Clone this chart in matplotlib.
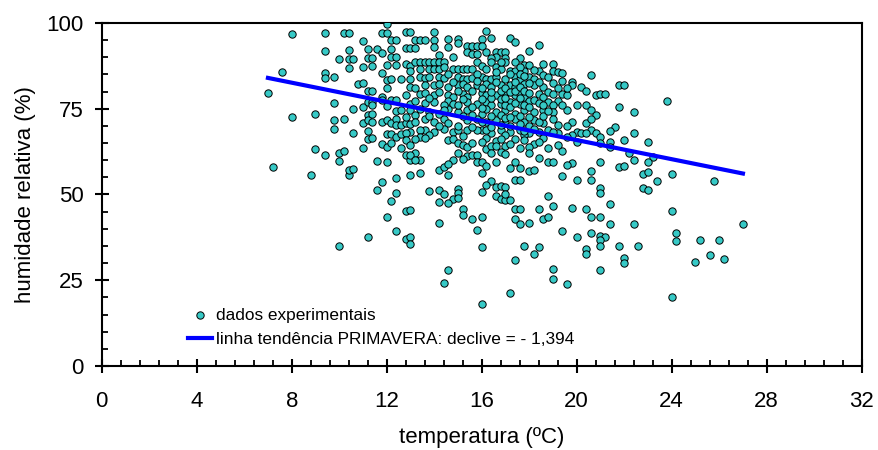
import numpy as np
import matplotlib
matplotlib.use("Agg")
import matplotlib.pyplot as plt
from matplotlib.ticker import MultipleLocator

plt.rcParams['font.family'] = ['Liberation Sans', 'DejaVu Sans']

# (temperatura ºC, humidade relativa %) - primavera, por faixas de temperatura
cool_points = [
    (7.0, 79.6), (7.2, 57.9), (7.6, 85.7), (8.0, 96.9), (8.0, 72.5), (8.8, 55.6), (9.0, 63.3), (9.0, 73.4),
    (9.4, 97.0), (9.4, 91.8), (9.4, 85.4), (9.4, 84.0), (9.4, 61.4), (9.8, 84.3), (9.8, 76.6), (9.8, 71.6),
    (9.8, 69.2), (10.0, 89.4), (10.0, 62.2), (10.0, 59.9), (10.0, 34.9), (10.2, 97.2), (10.2, 72.0), (10.2, 62.6),
    (10.4, 97.2), (10.4, 92.1), (10.4, 89.6), (10.4, 87.0), (10.4, 55.8), (10.4, 57.2), (10.6, 57.5), (10.6, 89.6),
    (10.6, 74.9), (10.6, 68.0), (10.8, 82.2), (11.0, 94.7), (11.0, 87.3), (11.0, 82.5), (11.0, 75.5), (11.0, 70.8),
    (11.0, 63.6), (11.2, 92.3), (11.2, 89.8), (11.2, 80.1), (11.2, 77.0), (11.2, 73.2), (11.2, 71.7), (11.2, 68.6),
    (11.2, 66.2), (11.2, 37.5), (11.4, 89.8), (11.4, 87.5), (11.4, 80.3), (11.4, 77.0), (11.4, 76.0), (11.4, 73.5),
    (11.4, 71.2), (11.4, 66.4), (11.6, 92.3), (11.6, 59.8), (11.6, 51.2), (11.8, 97.2), (11.8, 91.2), (11.8, 85.3),
    (11.8, 78.5), (11.8, 77.5), (11.8, 71.2), (11.8, 64.6), (11.8, 53.6), (12.0, 99.7), (12.0, 97.2), (12.0, 87.8),
    (12.0, 83.4), (12.0, 81.0), (12.0, 75.9), (12.0, 71.6), (12.0, 67.7), (12.0, 63.8), (12.0, 59.4), (12.0, 43.4),
    (12.2, 95.0), (12.2, 92.5), (12.2, 90.2), (12.2, 83.8), (12.2, 77.5), (12.2, 70.8), (12.2, 67.7), (12.2, 65.0),
    (12.2, 48.1), (12.4, 95.0), (12.4, 90.2), (12.4, 87.8), (12.4, 77.5), (12.4, 74.2), (12.4, 72.1), (12.4, 70.2),
    (12.4, 66.9), (12.4, 54.8), (12.4, 50.5), (12.4, 39.4), (12.6, 83.7), (12.6, 70.2), (12.6, 67.7),
    (12.8, 45.1), (13.0, 45.5), (12.8, 37.0), (13.0, 37.5), (13.0, 35.5),
]

core_high = [
    (12.8, 97.4), (13.0, 97.4), (14.0, 97.4), (16.2, 97.7),
    (13.2, 95.0), (13.4, 95.1), (13.6, 95.1), (14.0, 95.1), (14.6, 95.3), (15.0, 95.3), (16.0, 95.3), (16.4, 95.5),
    (17.2, 95.5), (17.4, 94.6),
    (12.8, 92.7), (13.0, 92.7), (13.2, 92.7), (14.0, 92.9), (14.6, 93.0), (15.0, 94.3), (15.4, 93.3), (15.6, 93.3),
    (15.8, 93.3), (16.0, 93.3), (18.4, 93.6), (18.0, 91.9),
    (14.2, 90.6), (14.8, 90.0), (15.4, 91.6), (15.6, 91.1), (15.8, 91.1), (16.2, 91.4), (16.6, 91.4), (16.8, 91.4),
    (17.0, 91.6), (16.6, 90.0), (16.4, 89.7), (17.0, 89.7), (17.6, 89.7),
    (12.8, 88.0), (13.0, 87.6), (13.2, 88.5), (13.4, 88.5), (13.6, 88.5), (13.8, 88.5), (14.0, 88.5), (14.2, 88.5),
    (14.4, 88.5), (15.8, 88.5), (16.4, 88.5), (17.0, 88.5), (16.0, 87.4), (17.8, 87.7), (18.0, 87.7), (19.0, 88.0),
    (17.4, 88.5),
    (13.0, 86.1), (13.4, 86.6), (13.8, 86.6), (14.0, 86.6), (14.2, 86.6), (14.8, 86.6), (15.0, 86.6), (15.2, 86.6),
    (15.4, 86.6), (15.6, 86.6), (16.2, 86.6), (16.6, 87.1), (16.8, 86.6), (17.2, 86.1), (17.4, 86.1), (17.8, 86.1),
    (18.4, 86.1), (19.0, 86.1), (19.2, 85.6), (19.4, 85.4), (20.6, 84.9),
    (13.0, 83.7), (13.4, 84.2), (13.6, 83.9), (13.8, 84.2), (14.2, 84.2), (14.4, 83.9), (15.0, 84.2), (15.2, 83.7),
    (15.4, 83.7), (15.6, 83.9), (16.0, 84.2), (16.2, 83.7), (16.4, 83.7), (16.6, 84.2), (17.0, 83.7), (17.4, 84.2),
    (17.6, 83.7), (18.0, 84.2), (18.2, 83.7), (18.6, 84.7), (18.8, 84.2), (19.8, 82.9),
    (13.0, 81.3), (13.2, 81.0), (13.6, 81.8), (14.0, 81.8), (14.2, 82.3), (14.6, 81.3), (15.0, 81.8), (15.2, 82.3),
    (15.4, 81.3), (15.8, 81.8), (16.2, 82.3), (16.4, 81.3), (16.8, 81.8), (17.2, 81.8), (17.4, 81.3), (17.8, 82.3),
    (18.2, 81.8), (18.6, 81.3), (19.8, 81.8), (20.2, 81.3),
    (12.8, 78.9), (13.4, 79.4), (13.6, 79.7), (14.0, 78.9), (14.6, 78.9), (14.8, 78.4), (15.2, 79.4), (15.4, 78.4),
    (16.0, 79.7), (16.2, 78.9), (16.6, 78.9), (17.0, 79.4), (17.4, 78.9), (17.6, 79.4), (17.8, 78.4), (18.4, 79.4),
    (18.6, 78.4), (19.4, 79.4), (19.6, 78.9), (20.4, 80.3), (20.8, 79.1),
    (13.0, 76.5), (13.2, 77.4), (13.6, 76.8), (14.0, 77.0), (14.6, 77.4), (14.8, 76.5), (15.4, 77.0), (15.8, 76.5),
    (16.2, 77.0), (16.4, 76.0), (16.8, 76.5), (17.2, 77.0), (17.6, 76.5), (18.0, 77.4), (18.8, 77.0), (19.2, 77.4),
    (19.0, 76.0), (20.0, 76.0), (20.4, 76.2),
    (12.6, 74.6), (13.0, 74.6), (13.4, 75.0), (13.8, 74.1), (14.2, 73.6), (14.6, 75.0), (15.0, 74.1), (15.4, 74.6),
    (16.0, 73.6), (16.2, 75.0), (16.6, 74.1), (17.0, 74.6), (17.4, 73.6), (17.8, 74.6), (18.2, 74.1), (18.6, 74.6),
    (19.0, 74.1), (19.6, 74.6), (20.6, 74.6), (20.8, 73.1), (13.2, 73.1),
    (12.8, 70.7), (12.8, 72.5), (13.0, 70.5), (13.2, 71.2), (13.6, 72.1), (14.0, 71.2), (14.4, 72.1), (14.6, 70.7),
    (15.4, 71.7), (15.8, 72.1), (16.2, 71.2), (16.6, 71.7), (17.0, 70.7), (17.4, 72.1), (17.8, 71.2), (18.2, 71.7),
    (18.6, 70.7), (19.0, 72.1), (19.8, 71.2), (20.4, 70.7), (20.6, 72.1),
    (13.0, 68.3), (13.6, 68.8), (14.0, 68.3), (14.4, 69.2), (14.8, 68.3), (15.4, 68.8), (16.0, 68.8), (16.4, 67.8),
    (16.8, 68.8), (17.2, 68.3), (17.6, 68.8), (18.0, 67.8), (18.4, 68.3), (18.8, 68.8), (19.2, 67.8), (20.0, 68.3),
    (20.6, 68.8), (13.4, 68.8), (13.8, 67.3), (15.0, 68.8), (15.8, 68.8), (16.2, 68.8), (17.8, 67.3), (19.0, 68.3),
    (19.8, 67.3), (20.2, 67.8), (20.4, 68.0), (20.8, 67.8), (12.8, 67.8),
]

# pontos sobrepostos no centro da nuvem (14-20 ºC)
core_dense = [
    (14.4, 87.2), (14.6, 85.2), (14.8, 82.8), (15.0, 80.2), (15.2, 77.8), (15.0, 76.0), (15.2, 72.8), (15.0, 70.0),
    (15.2, 67.0), (15.6, 69.8), (15.6, 73.2), (15.6, 75.6), (15.6, 80.2), (15.8, 85.2), (15.8, 83.0), (16.0, 81.0),
    (16.0, 77.8), (16.0, 75.2), (16.0, 71.0), (16.2, 66.5), (16.4, 69.6), (16.4, 73.0), (16.4, 78.2), (16.4, 80.0),
    (16.6, 82.8), (16.6, 85.6), (16.8, 88.6), (16.8, 80.2), (16.8, 77.8), (16.8, 73.2), (16.8, 70.2), (17.0, 67.2),
    (17.0, 72.4), (17.0, 76.0), (17.0, 78.0), (17.0, 81.0), (17.2, 85.0), (17.2, 79.8), (17.2, 75.6), (17.2, 72.6),
    (17.2, 70.0), (17.4, 76.8), (17.4, 80.2), (17.4, 82.8), (17.6, 87.2), (17.6, 85.0), (17.6, 81.2), (17.6, 78.0),
    (17.6, 73.0), (17.6, 70.6), (17.8, 68.6), (17.8, 76.0), (17.8, 80.2), (17.8, 84.6), (18.0, 82.6), (18.0, 79.6),
    (18.0, 75.6), (18.0, 72.6), (18.0, 70.0), (18.2, 86.4), (18.2, 77.6), (18.2, 69.2), (18.4, 71.0), (18.4, 76.6),
    (18.4, 82.8), (18.6, 88.0), (18.6, 76.0), (18.6, 72.8), (18.8, 80.0), (18.8, 74.4), (19.0, 79.2), (19.0, 82.6),
    (19.2, 70.4), (19.2, 81.0), (19.4, 76.0), (19.4, 83.0), (19.6, 81.0), (19.6, 70.0), (14.2, 80.0), (14.4, 76.0),
    (14.2, 70.0), (14.6, 66.0), (13.8, 78.0), (13.8, 72.8), (14.4, 74.6), (16.6, 65.6), (17.4, 66.2), (18.2, 64.6),
    (18.6, 66.6), (16.2, 63.2), (17.0, 64.0), (19.4, 62.6),
]

core_mid = [
    (12.8, 65.9), (13.0, 64.5), (13.4, 66.9), (13.6, 66.4), (14.8, 66.1), (15.0, 65.1), (15.2, 64.5), (15.4, 63.8),
    (15.6, 65.0), (16.0, 65.4), (16.4, 64.2), (16.8, 66.1), (16.6, 64.0), (17.2, 64.7), (17.6, 63.5), (17.8, 65.9),
    (18.0, 63.8), (18.4, 65.4), (18.8, 63.5), (19.2, 64.5), (19.6, 66.9), (20.0, 65.4),
    (12.6, 63.5), (12.8, 61.6), (13.2, 62.0), (15.0, 62.0), (15.4, 61.1), (15.6, 61.6), (15.8, 61.6), (16.4, 62.0),
    (16.8, 62.5), (17.0, 61.9), (18.0, 62.0), (18.4, 60.6),
    (13.0, 60.1), (13.4, 60.1), (14.8, 60.1), (15.2, 60.3), (15.8, 59.6), (16.0, 59.6), (16.6, 59.6), (17.4, 59.6),
    (18.8, 59.6), (19.0, 59.6), (19.8, 59.2), (13.0, 61.6), (13.2, 66.2), (13.2, 60.1),
]

core_low = [
    (13.4, 56.2), (13.0, 55.6), (13.8, 50.9), (14.2, 51.4), (14.4, 50.0), (14.2, 47.8), (14.8, 48.6), (14.6, 47.4),
    (15.0, 51.6), (15.0, 50.5), (15.0, 49.0), (15.2, 45.7), (15.2, 43.9), (15.6, 42.8), (16.0, 43.5), (16.0, 50.7),
    (15.8, 39.7), (16.0, 34.6), (14.2, 41.8),
    (16.4, 53.9), (16.2, 52.9), (16.6, 52.2), (16.8, 52.6), (17.0, 52.2), (16.6, 49.7), (16.8, 48.6), (17.0, 48.3),
    (17.2, 48.3), (17.0, 50.0),
    (17.4, 45.9), (17.6, 45.9), (17.4, 42.8), (17.6, 41.3), (18.0, 41.8), (18.4, 45.7), (18.6, 42.8), (18.8, 43.3),
    (19.0, 46.6), (19.4, 39.4), (19.8, 46.1), (20.4, 45.7), (20.6, 43.5), (20.0, 37.5), (20.6, 38.7), (18.8, 49.5),
    (17.8, 35.1), (18.4, 34.6),
    (14.2, 57.2), (14.4, 58.0), (14.6, 58.9), (14.6, 55.8), (16.0, 56.4), (17.2, 57.7), (17.4, 54.3), (17.6, 54.3),
    (18.0, 56.8), (18.2, 57.2), (19.4, 55.5), (19.6, 58.7), (20.6, 56.8), (20.6, 54.3), (20.0, 54.3), (17.6, 57.7),
    (16.2, 58.2),
    (18.2, 32.7), (17.4, 31.0), (14.6, 28.0), (14.4, 24.1), (16.0, 18.1), (17.2, 21.3), (19.0, 28.3), (19.0, 25.3),
    (19.6, 23.9), (20.4, 34.1), (20.4, 32.6),
]

warm_points = [
    (21.0, 79.2), (21.2, 79.2), (21.8, 82.0), (22.0, 82.0), (21.8, 75.5), (22.4, 74.0), (23.8, 77.4), (21.6, 69.6),
    (21.4, 68.6), (21.0, 66.9), (21.0, 64.9), (21.4, 65.4), (21.4, 63.8), (22.0, 65.9), (22.4, 67.9), (23.0, 65.2),
    (22.2, 62.2), (22.4, 60.1), (23.2, 60.9), (23.0, 59.4), (21.8, 58.0), (22.0, 58.2), (22.8, 55.9), (23.0, 56.5),
    (24.0, 56.0), (23.4, 53.9), (25.8, 53.9), (22.8, 51.8), (23.0, 51.3), (21.0, 52.0), (21.0, 50.5), (21.4, 47.1),
    (21.0, 43.3), (21.4, 41.3), (24.0, 45.1), (22.4, 41.4), (27.0, 41.5), (24.2, 38.9), (24.2, 36.3), (25.2, 36.6),
    (26.0, 36.6), (25.6, 32.5), (25.0, 30.3), (26.2, 31.1), (21.0, 37.9), (21.2, 37.5), (21.0, 36.7), (21.0, 35.1),
    (21.8, 35.1), (22.6, 35.1), (22.0, 31.4), (22.0, 30.0), (21.0, 28.1), (24.0, 20.2), (21.0, 59.6),
]

# linha de tendência (regressão linear)
slope = -1.394
intercept = 93.75
trend_range = [7.0, 27.0]

data = np.array(cool_points + core_high + core_dense + core_mid + core_low + warm_points)
temp = data[:, 0]
hum = data[:, 1]

fig = plt.figure(figsize=(8.79, 4.5), dpi=100)
ax = fig.add_axes([0.1157, 0.1867, 0.8646, 0.7622])

ax.scatter(temp, hum, s=28, c='#36C9C6', edgecolors='black', linewidths=0.7,
           zorder=3, label='dados experimentais')
tx = np.array(trend_range)
ax.plot(tx, intercept + slope * tx, color='#0000FF', lw=3, zorder=4,
        label='linha tendência PRIMAVERA: declive = - 1,394')

ax.set_xlim(0, 32)
ax.set_ylim(0, 100)
ax.xaxis.set_major_locator(MultipleLocator(4))
ax.xaxis.set_minor_locator(MultipleLocator(0.8))
ax.yaxis.set_major_locator(MultipleLocator(25))
ax.yaxis.set_minor_locator(MultipleLocator(5))

ax.tick_params(which='major', direction='inout', length=9.5, width=1.5,
               labelsize=16, pad=8)
ax.tick_params(which='minor', direction='in', length=4.5, width=1.3)
ax.tick_params(axis='x', which='major', pad=13)
for side in ['left', 'bottom', 'top', 'right']:
    ax.spines[side].set_linewidth(1.5)

ax.set_xlabel('temperatura (ºC)', fontsize=16)
ax.set_ylabel('humidade relativa (%)', fontsize=16)
ax.xaxis.set_label_coords(0.5, -0.178)
ax.yaxis.set_label_coords(-0.087, 0.5)

ax.legend(loc='upper left', bbox_to_anchor=(0.105, 0.19), frameon=False,
          fontsize=12.4, scatterpoints=1, handlelength=1.4, handletextpad=0.2,
          labelspacing=0.55, borderaxespad=0)

fig.savefig('out.png', dpi=100)
